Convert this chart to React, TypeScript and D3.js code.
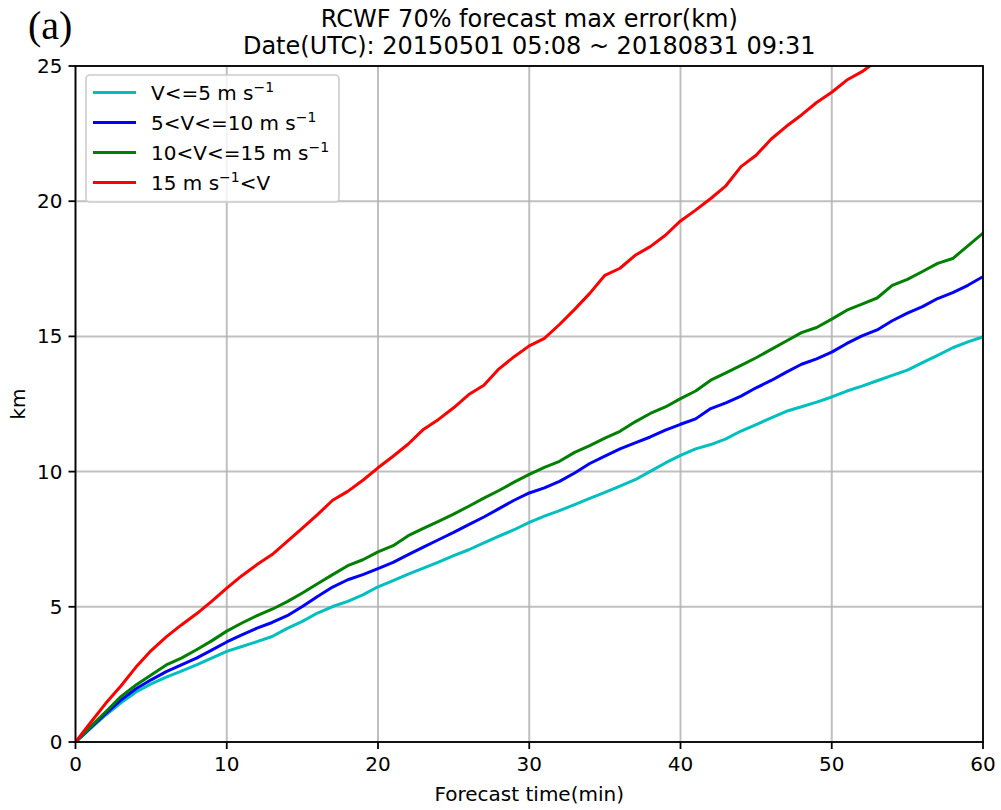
import React from "react";
import * as d3 from "d3";

// Forecast lead time (minutes) 0..60
const minutes: number[] = d3.range(0, 61);

// 70% forecast max error (km) per wind-speed class
const errSlow: number[] = [
  0, 0.5, 1.0, 1.45, 1.85, 2.15, 2.4, 2.62, 2.85, 3.1, 3.35,
  3.53, 3.71, 3.9, 4.2, 4.46, 4.77, 5.01, 5.2, 5.44, 5.74,
  5.97, 6.21, 6.43, 6.65, 6.89, 7.11, 7.36, 7.61, 7.85, 8.12,
  8.35, 8.56, 8.78, 9.01, 9.23, 9.46, 9.7, 10.01, 10.32, 10.6,
  10.84, 11.0, 11.21, 11.5, 11.74, 11.99, 12.23, 12.4, 12.57, 12.76,
  12.98, 13.16, 13.36, 13.56, 13.75, 14.03, 14.3, 14.58, 14.8, 14.98,
];
const errModerate: number[] = [
  0, 0.53, 1.05, 1.55, 1.97, 2.3, 2.6, 2.85, 3.1, 3.4, 3.7,
  3.96, 4.21, 4.42, 4.67, 5.01, 5.38, 5.73, 6.0, 6.19, 6.41,
  6.64, 6.93, 7.21, 7.48, 7.75, 8.04, 8.32, 8.63, 8.94, 9.21,
  9.4, 9.64, 9.95, 10.3, 10.57, 10.84, 11.06, 11.28, 11.53, 11.75,
  11.95, 12.33, 12.54, 12.79, 13.1, 13.37, 13.68, 13.97, 14.17, 14.42,
  14.74, 15.02, 15.24, 15.58, 15.86, 16.1, 16.4, 16.62, 16.89, 17.21,
];
const errFresh: number[] = [
  0, 0.57, 1.12, 1.68, 2.11, 2.48, 2.85, 3.1, 3.41, 3.74, 4.1,
  4.4, 4.67, 4.91, 5.19, 5.51, 5.85, 6.19, 6.52, 6.74, 7.03,
  7.26, 7.63, 7.9, 8.16, 8.43, 8.72, 9.02, 9.3, 9.61, 9.9,
  10.16, 10.38, 10.71, 10.96, 11.24, 11.49, 11.84, 12.15, 12.39, 12.7,
  12.98, 13.38, 13.65, 13.93, 14.21, 14.52, 14.83, 15.14, 15.33, 15.64,
  15.97, 16.19, 16.42, 16.89, 17.11, 17.4, 17.7, 17.88, 18.35, 18.82,
];
// strongest class runs off the top of the axes after ~53 min
const errStrong: number[] = [
  0, 0.72, 1.43, 2.07, 2.77, 3.38, 3.89, 4.33, 4.74, 5.2, 5.69,
  6.15, 6.56, 6.93, 7.42, 7.91, 8.41, 8.94, 9.27, 9.68, 10.14,
  10.57, 11.02, 11.56, 11.93, 12.36, 12.85, 13.19, 13.8, 14.25, 14.65,
  14.93, 15.44, 16.0, 16.59, 17.26, 17.52, 18.0, 18.32, 18.74, 19.27,
  19.67, 20.1, 20.57, 21.28, 21.7, 22.3, 22.77, 23.19, 23.65, 24.03,
  24.48, 24.79, 25.2,
];

const xTicks: number[] = [0, 10, 20, 30, 40, 50, 60];
const yTicks: number[] = [0, 5, 10, 15, 20, 25];

const seriesLabels: string[][] = [
  ["V<=5 m s", "\u22121", ""],
  ["5<V<=10 m s", "\u22121", ""],
  ["10<V<=15 m s", "\u22121", ""],
  ["15 m s", "\u22121", "<V"],
];
const seriesValues: number[][] = [errSlow, errModerate, errFresh, errStrong];
const seriesColors: string[] = ["#00bfbf", "#0000ff", "#008000", "#ff0000"];

const W = 1001;
const H = 810;
const M = { left: 75.5, right: 983, top: 66, bottom: 742 };
const FONT = "'DejaVu Sans', Verdana, sans-serif";

export default function App() {
  const x = d3.scaleLinear().domain([0, 60]).range([M.left, M.right]);
  const y = d3.scaleLinear().domain([0, 25]).range([M.bottom, M.top]);
  const line = d3
    .line<number>()
    .x((_, i) => x(minutes[i]))
    .y((v) => y(v));

  const legX = 86;
  const legY = 75;
  const legW = 253;
  const legH = 127;
  const rowY = (i: number) => 92.5 + i * 30;

  return (
    <svg
      width={W}
      height={H}
      viewBox={`0 0 ${W} ${H}`}
      style={{ position: "absolute", left: 0, top: 0, background: "#fff" }}
      fontFamily={FONT}
    >
      <defs>
        <clipPath id="plotClip">
          <rect x={M.left} y={M.top} width={M.right - M.left} height={M.bottom - M.top} />
        </clipPath>
      </defs>
      <rect x={0} y={0} width={W} height={H} fill="#fff" />

      {/* grid */}
      <g stroke="#b0b0b0" strokeWidth={2} strokeOpacity={0.8}>
        {xTicks.map((t) => (
          <line key={"gx" + t} x1={x(t)} x2={x(t)} y1={M.top} y2={M.bottom} />
        ))}
        {yTicks.map((t) => (
          <line key={"gy" + t} x1={M.left} x2={M.right} y1={y(t)} y2={y(t)} />
        ))}
      </g>

      {/* series */}
      <g clipPath="url(#plotClip)" fill="none" strokeWidth={3} strokeLinejoin="round" strokeLinecap="square">
        {seriesValues.map((vals, i) => (
          <path key={i} d={line(vals) || ""} stroke={seriesColors[i]} />
        ))}
      </g>

      {/* spines */}
      <rect
        x={M.left}
        y={M.top}
        width={M.right - M.left}
        height={M.bottom - M.top}
        fill="none"
        stroke="#000"
        strokeWidth={1.8}
      />

      {/* x ticks */}
      <g fontSize={20} fill="#000" textAnchor="middle">
        {xTicks.map((t) => (
          <g key={"xt" + t}>
            <line x1={x(t)} x2={x(t)} y1={M.bottom} y2={M.bottom + 7} stroke="#000" strokeWidth={1.8} />
            <text x={x(t)} y={M.bottom + 29}>{t}</text>
          </g>
        ))}
      </g>
      {/* y ticks */}
      <g fontSize={20} fill="#000" textAnchor="end">
        {yTicks.map((t) => (
          <g key={"yt" + t}>
            <line x1={M.left - 7} x2={M.left} y1={y(t)} y2={y(t)} stroke="#000" strokeWidth={1.8} />
            <text x={M.left - 13} y={y(t) + 7}>{t}</text>
          </g>
        ))}
      </g>

      {/* axis labels */}
      <text x={(M.left + M.right) / 2} y={801} fontSize={20} textAnchor="middle">
        Forecast time(min)
      </text>
      <text transform={`translate(25,${(M.top + M.bottom) / 2}) rotate(-90)`} fontSize={20} textAnchor="middle">
        km
      </text>

      {/* title */}
      <text x={(M.left + M.right) / 2} y={27} fontSize={24} textAnchor="middle">
        RCWF 70% forecast max error(km)
      </text>
      <text x={(M.left + M.right) / 2} y={54} fontSize={24} textAnchor="middle">
        Date(UTC): 20150501 05:08 ~ 20180831 09:31
      </text>

      {/* panel tag */}
      <text x={28} y={39} fontSize={40} fontFamily="'Liberation Serif', 'Times New Roman', serif">
        (a)
      </text>

      {/* legend */}
      <g>
        <rect x={legX} y={legY} width={legW} height={legH} rx={4} fill="#fff" fillOpacity={0.8} stroke="#cccccc" strokeWidth={1.6} />
        {seriesLabels.map((lab, i) => (
          <g key={"lg" + i}>
            <line x1={93} x2={136} y1={rowY(i)} y2={rowY(i)} stroke={seriesColors[i]} strokeWidth={3} />
            <text x={151} y={rowY(i) + 7} fontSize={20}>
              {lab[0]}
              <tspan fontSize={14} dy={-8}>{lab[1]}</tspan>
              {lab[2] ? <tspan dy={8}>{lab[2]}</tspan> : null}
            </text>
          </g>
        ))}
      </g>
    </svg>
  );
}
